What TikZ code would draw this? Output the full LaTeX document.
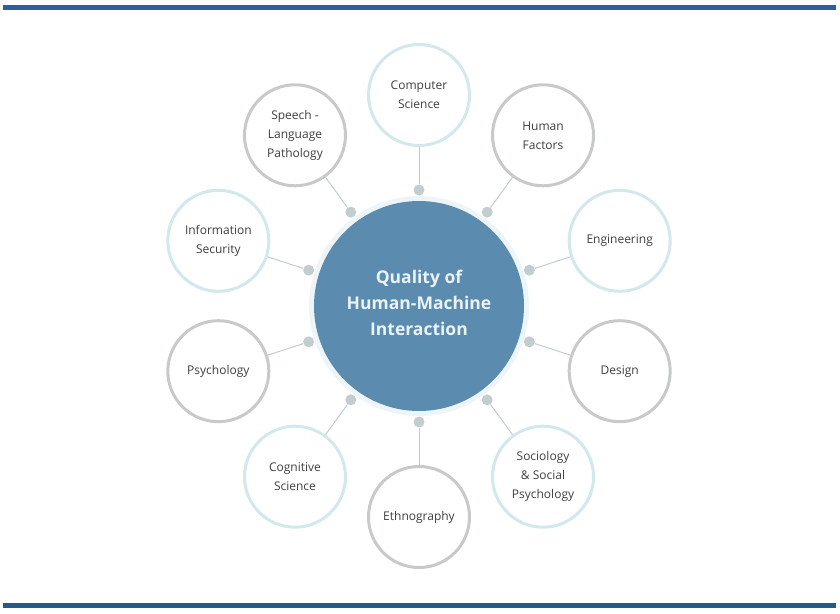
\documentclass[tikz,border=0pt]{standalone}
\usepackage{fontspec}
\setmainfont{Open Sans}
\usetikzlibrary{positioning,calc}
\definecolor{hubblue}{HTML}{5B8CB0}
\definecolor{hubtext}{HTML}{EAF3F8}
\definecolor{hubglow}{HTML}{EEF5F9}
\definecolor{fieldtext}{HTML}{3F3F3F}
\definecolor{ringgray}{HTML}{C8CACA}
\definecolor{ringteal}{HTML}{D2E8EB}
\definecolor{linkgray}{HTML}{C3CCCF}
\definecolor{topbar}{HTML}{2A5FA0}
\definecolor{footbar}{HTML}{235A87}

\begin{document}
\begin{tikzpicture}[x=1pt,y=1pt,
    hub/.style={circle,fill=hubblue,minimum size=210pt,inner sep=0pt},
    hubtitle/.style={align=center,text=hubtext,font=\fontsize{17.5}{26}\selectfont\bfseries},
    field/.style={circle,draw=#1,line width=3pt,fill=white,minimum size=101pt,
      inner sep=0pt,align=center,text=fieldtext,font=\fontsize{12}{19}\selectfont},
    link/.style={draw=linkgray,line width=1pt},
    knob/.style={circle,fill=linkgray,inner sep=0pt,minimum size=11pt}]
    \useasboundingbox (0,0) rectangle (840,613);
    \fill[topbar] (3,603) rectangle (836,608);
    \fill[footbar] (3,5) rectangle (836,10);
    % soft halo behind the hub
    \fill[hubglow] (419,307) circle (110);
    \node[hub](hmi) at (419,307) {};
    \node[hubtitle](title) at ([yshift=3]hmi.center) {Quality of\\Human-Machine\\Interaction};
    \foreach \a/\n/\t/\c in {90/cs/{Computer\\Science}/ringteal,
        54/hf/{Human\\Factors}/ringgray,
        18/eng/{Engineering}/ringteal,
        -18/des/{Design}/ringgray,
        -54/soc/{Sociology\\\& Social\\Psychology}/ringteal,
        -90/eth/{Ethnography}/ringgray,
        -126/cog/{Cognitive\\Science}/ringteal,
        198/psy/{Psychology}/ringgray,
        162/sec/{Information\\Security}/ringteal,
        126/slp/{Speech -\\Language\\Pathology}/ringgray}{
      \node[field=\c](\n) at ($(hmi)+(\a:211)$) {\t};
      \node[knob](\n-k) at ($(hmi)+(\a:116)$) {};
      \draw[link](\n)--(\n-k);
    }
  \end{tikzpicture}
\end{document}
